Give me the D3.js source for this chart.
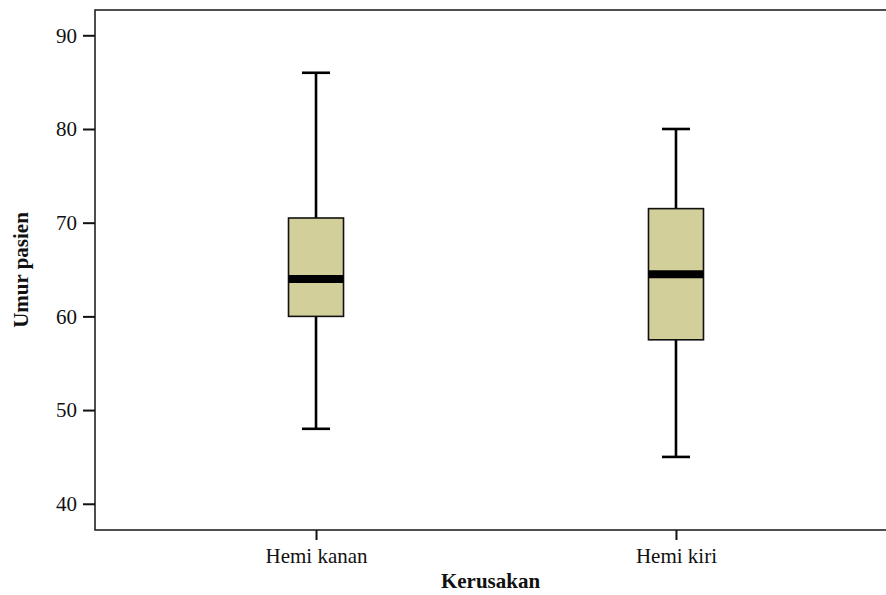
<!DOCTYPE html>
<html>
<head>
<meta charset="utf-8">
<script src="https://cdn.jsdelivr.net/npm/d3@7"></script>
<style>
  html, body { margin: 0; padding: 0; background: #fff; }
  svg { display: block; font-family: "Liberation Serif", "Times New Roman", serif; }
</style>
</head>
<body>
<svg id="chart" width="886" height="595"></svg>
<script>
// Patient age by lesion side
const categories = ["Hemi kanan", "Hemi kiri"];
const whiskerLow  = [48, 45];
const q1          = [60, 57.5];
const median      = [64, 64.5];
const q3          = [70.5, 71.5];
const whiskerHigh = [86, 80];
const yTicks = [40, 50, 60, 70, 80, 90];

const svg = d3.select("#chart");
const plot = { left: 95, right: 897, top: 10, bottom: 530 };

const y = d3.scaleLinear().domain([37.2, 92.7]).range([plot.bottom, plot.top]);
const x = d3.scalePoint().domain(categories).range([plot.left, plot.right]).padding(0.614);

const boxW = 55, capW = 28;

// frame
svg.append("rect")
  .attr("x", plot.left).attr("y", plot.top)
  .attr("width", plot.right - plot.left).attr("height", plot.bottom - plot.top)
  .attr("fill", "none").attr("stroke", "#222").attr("stroke-width", 1.6);

// y axis
const yAxis = svg.append("g")
  .attr("transform", `translate(${plot.left},0)`)
  .call(d3.axisLeft(y).tickValues(yTicks).tickSize(12).tickPadding(6));
yAxis.select(".domain").remove();
yAxis.selectAll(".tick line").attr("stroke", "#111").attr("stroke-width", 2);
yAxis.selectAll(".tick text").attr("font-size", 21).attr("fill", "#111")
  .attr("font-family", "Liberation Serif, Times New Roman, serif");

// x axis
const xAxis = svg.append("g")
  .attr("transform", `translate(0,${plot.bottom})`)
  .call(d3.axisBottom(x).tickSize(10).tickPadding(8));
xAxis.select(".domain").remove();
xAxis.selectAll(".tick line").attr("stroke", "#111").attr("stroke-width", 2);
xAxis.selectAll(".tick text").attr("font-size", 21).attr("fill", "#111")
  .attr("font-family", "Liberation Serif, Times New Roman, serif");

// axis titles
svg.append("text")
  .attr("x", 490.5).attr("y", 588)
  .attr("text-anchor", "middle")
  .attr("font-size", 21).attr("font-weight", "bold").attr("fill", "#111")
  .text("Kerusakan");

svg.append("text")
  .attr("transform", `translate(28,${(plot.top + plot.bottom) / 2}) rotate(-90)`)
  .attr("text-anchor", "middle")
  .attr("font-size", 21).attr("font-weight", "bold").attr("fill", "#111")
  .text("Umur pasien");

// boxes
const data = categories.map((c, i) => ({
  c, lo: whiskerLow[i], q1: q1[i], med: median[i], q3: q3[i], hi: whiskerHigh[i]
}));

const g = svg.selectAll("g.box").data(data).join("g").attr("class", "box");

// whisker stems
g.append("line")
  .attr("x1", d => x(d.c)).attr("x2", d => x(d.c))
  .attr("y1", d => y(d.hi)).attr("y2", d => y(d.q3))
  .attr("stroke", "#000").attr("stroke-width", 2.6);
g.append("line")
  .attr("x1", d => x(d.c)).attr("x2", d => x(d.c))
  .attr("y1", d => y(d.q1)).attr("y2", d => y(d.lo))
  .attr("stroke", "#000").attr("stroke-width", 2.6);

// caps
g.append("line")
  .attr("x1", d => x(d.c) - capW / 2).attr("x2", d => x(d.c) + capW / 2)
  .attr("y1", d => y(d.hi)).attr("y2", d => y(d.hi))
  .attr("stroke", "#000").attr("stroke-width", 2.6);
g.append("line")
  .attr("x1", d => x(d.c) - capW / 2).attr("x2", d => x(d.c) + capW / 2)
  .attr("y1", d => y(d.lo)).attr("y2", d => y(d.lo))
  .attr("stroke", "#000").attr("stroke-width", 2.6);

// IQR box
g.append("rect")
  .attr("x", d => x(d.c) - boxW / 2).attr("width", boxW)
  .attr("y", d => y(d.q3)).attr("height", d => y(d.q1) - y(d.q3))
  .attr("fill", "#d3cf9b").attr("stroke", "#111").attr("stroke-width", 1.6);

// median
g.append("line")
  .attr("x1", d => x(d.c) - boxW / 2).attr("x2", d => x(d.c) + boxW / 2)
  .attr("y1", d => y(d.med)).attr("y2", d => y(d.med))
  .attr("stroke", "#000").attr("stroke-width", 8);
</script>
</body>
</html>
